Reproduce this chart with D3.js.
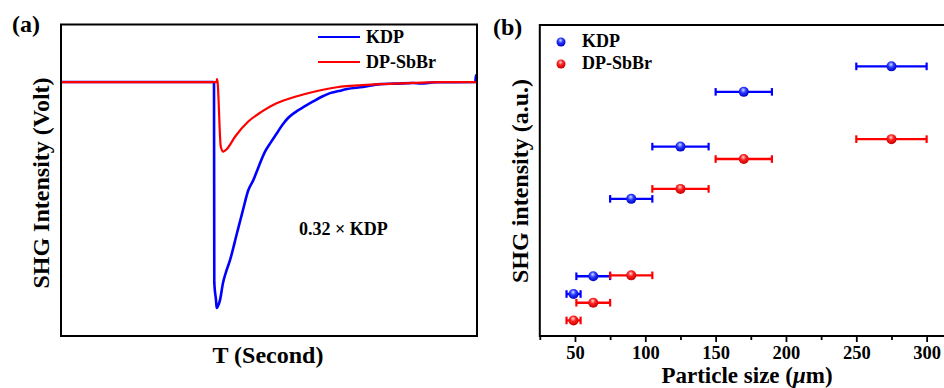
<!DOCTYPE html>
<html>
<head>
<meta charset="utf-8">
<script src="https://cdn.jsdelivr.net/npm/d3@7/dist/d3.min.js"></script>
<style>
  body { margin: 0; background: #fff; }
  svg { display: block; }
  text { font-family: "Liberation Serif", "Times New Roman", serif; font-weight: bold; fill: #000; }
</style>
</head>
<body>
<div id="chart"></div>
<script>
// Panel (a): SHG signal traces, time in arbitrary units (0-100), voltage relative to baseline
const kdpTrace = [
  [0, 0], [20, 0], [36.66, 0], [36.78, -0.004], [36.85, -0.889], [37.26, -0.965],
  [37.43, -1.0], [37.74, -0.991], [38.22, -0.965], [38.94, -0.889], [39.66, -0.841],
  [40.63, -0.788], [42.31, -0.668], [43.75, -0.566], [45.0, -0.48], [46.23, -0.434],
  [47.4, -0.38], [49.04, -0.308], [50.4, -0.268], [51.85, -0.228], [53.2, -0.19],
  [54.64, -0.158], [56.6, -0.13], [58.65, -0.107], [60.6, -0.086], [62.67, -0.065],
  [64.66, -0.049], [66.7, -0.04], [68.75, -0.031], [72.6, -0.022], [76.68, -0.009],
  [80.5, -0.007], [84.6, -0.004], [86.5, -0.006], [90, -0.001], [99.6, 0],
  [99.75, 0.03], [100, 0.02]
];
const dpTrace = [
  [0, 0], [20, 0], [37.38, 0], [37.5, 0.013], [37.64, 0], [38.4, -0.285],
  [39.01, -0.308], [39.9, -0.296], [41.83, -0.242], [44.95, -0.176], [48.25, -0.131],
  [51.44, -0.097], [54.57, -0.075], [58.65, -0.053], [62.67, -0.035], [66.7, -0.022],
  [70.5, -0.016], [76.68, -0.009], [84.6, -0.004], [91.1, 0], [100, 0]
];

// Panel (b): particle size ranges (um) and SHG intensity (a.u.)
const sizeCenters = [49, 63, 90, 125, 170, 275];
const sizeLow = [44, 51, 75, 105, 150, 250];
const sizeHigh = [54, 75, 105, 145, 190, 300];
const kdpIntensity = [13.5, 19.2, 44.1, 60.9, 78.5, 86.7];
const dpIntensity = [5.0, 10.7, 19.5, 47.3, 56.9, 63.3];
const sizeTicks = [50, 100, 150, 200, 250, 300];
const sizeMinorTicks = [25, 75, 125, 175, 225, 275, 325];

const seriesNames = ["KDP", "DP-SbBr"];
const seriesColors = ["#0000ff", "#ff0000"];

const svg = d3.select("#chart").append("svg")
  .attr("width", 944).attr("height", 388);

svg.append("rect").attr("width", 944).attr("height", 388).attr("fill", "#fff");

// ball gradients
const defs = svg.append("defs");
const ballStops = [
  ["#d8e0ff", "#2a3cff", "#0000c8"],
  ["#ffd8d8", "#ff2222", "#c80000"]
];
ballStops.forEach((s, i) => {
  const g = defs.append("radialGradient").attr("id", "ball" + i)
    .attr("cx", 0.45).attr("cy", 0.38).attr("r", 0.6)
    .attr("fx", 0.45).attr("fy", 0.3);
  g.append("stop").attr("offset", "0%").attr("stop-color", s[0]);
  g.append("stop").attr("offset", "45%").attr("stop-color", s[1]);
  g.append("stop").attr("offset", "100%").attr("stop-color", s[2]);
});

// ---------- Panel (a) ----------
const xa = d3.scaleLinear().domain([0, 100]).range([61, 477]);
const ya = d3.scaleLinear().domain([-1.124, 0.257]).range([336, 24]);

const lineA = d3.line().x(d => xa(d[0])).y(d => ya(d[1])).curve(d3.curveMonotoneX);

svg.append("path").datum(kdpTrace)
  .attr("d", lineA).attr("fill", "none")
  .attr("stroke", seriesColors[0]).attr("stroke-width", 2.6)
  .attr("stroke-linejoin", "round");
svg.append("path").datum(dpTrace)
  .attr("d", lineA).attr("fill", "none")
  .attr("stroke", seriesColors[1]).attr("stroke-width", 2.2)
  .attr("stroke-linejoin", "round");

svg.append("rect")
  .attr("x", 61).attr("y", 24.5).attr("width", 416).attr("height", 311.5)
  .attr("fill", "none").attr("stroke", "#000").attr("stroke-width", 2);

// legend (a)
seriesNames.forEach((name, i) => {
  const ly = 37 + i * 25;
  svg.append("line").attr("x1", 318).attr("x2", 360).attr("y1", ly).attr("y2", ly)
    .attr("stroke", seriesColors[i]).attr("stroke-width", 2.2);
  svg.append("text").attr("x", 366).attr("y", ly + 6).attr("font-size", 18).text(name);
});

svg.append("text").attr("x", 299).attr("y", 235).attr("font-size", 18).text("0.32 \u00d7 KDP");

svg.append("text").attr("x", 12).attr("y", 32).attr("font-size", 24).text("(a)");
svg.append("text").attr("x", 268).attr("y", 363).attr("font-size", 24)
  .attr("text-anchor", "middle").text("T (Second)");
svg.append("text").attr("transform", "translate(49,183) rotate(-90)")
  .attr("font-size", 24).attr("text-anchor", "middle").text("SHG Intensity (Volt)");

// ---------- Panel (b) ----------
const xb = d3.scaleLinear().domain([25, 325]).range([539.8, 961.8]);
const yb = d3.scaleLinear().domain([0, 100]).range([336, 25]);

const axisMajor = d3.axisBottom(xb).tickValues(sizeTicks)
  .tickSizeInner(6).tickSizeOuter(0).tickPadding(3.5);
const axisMinor = d3.axisBottom(xb).tickValues(sizeMinorTicks)
  .tickSizeInner(4).tickSizeOuter(0).tickFormat("");

const gMinor = svg.append("g").attr("transform", "translate(0,336)").call(axisMinor);
const gMajor = svg.append("g").attr("transform", "translate(0,336)").call(axisMajor);
[gMinor, gMajor].forEach(g => {
  g.select(".domain").remove();
  g.selectAll("line").attr("stroke", "#000").attr("stroke-width", 1.8);
});
gMajor.selectAll("text")
  .attr("font-family", "'Liberation Serif', 'Times New Roman', serif")
  .attr("font-weight", "bold").attr("font-size", 18.5).attr("fill", "#000");

svg.append("rect")
  .attr("x", 539.8).attr("y", 25).attr("width", 422).attr("height", 311)
  .attr("fill", "none").attr("stroke", "#000").attr("stroke-width", 2);

const seriesB = [kdpIntensity, dpIntensity];
seriesB.forEach((vals, si) => {
  const g = svg.append("g");
  const rows = sizeCenters.map((c, i) => ({ c: c, lo: sizeLow[i], hi: sizeHigh[i], v: vals[i] }));
  g.selectAll(".eb").data(rows).enter().append("line")
    .attr("x1", d => xb(d.lo)).attr("x2", d => xb(d.hi))
    .attr("y1", d => yb(d.v)).attr("y2", d => yb(d.v))
    .attr("stroke", seriesColors[si]).attr("stroke-width", 2.4);
  g.selectAll(".capl").data(rows).enter().append("line")
    .attr("x1", d => xb(d.lo)).attr("x2", d => xb(d.lo))
    .attr("y1", d => yb(d.v) - 3.8).attr("y2", d => yb(d.v) + 3.8)
    .attr("stroke", seriesColors[si]).attr("stroke-width", 2.2);
  g.selectAll(".caph").data(rows).enter().append("line")
    .attr("x1", d => xb(d.hi)).attr("x2", d => xb(d.hi))
    .attr("y1", d => yb(d.v) - 3.8).attr("y2", d => yb(d.v) + 3.8)
    .attr("stroke", seriesColors[si]).attr("stroke-width", 2.2);
  g.selectAll(".pt").data(rows).enter().append("circle")
    .attr("cx", d => xb(d.c)).attr("cy", d => yb(d.v)).attr("r", 5)
    .attr("fill", `url(#ball${si})`);
});

// legend (b)
seriesNames.forEach((name, i) => {
  const ly = 42 + i * 22;
  svg.append("circle").attr("cx", 561).attr("cy", ly).attr("r", 4.5)
    .attr("fill", `url(#ball${i})`);
  svg.append("text").attr("x", 582).attr("y", ly + 5).attr("font-size", 18).text(name);
});

svg.append("text").attr("x", 493).attr("y", 35).attr("font-size", 24).text("(b)");
svg.append("text").attr("transform", "translate(528,181) rotate(-90)")
  .attr("font-size", 24).attr("text-anchor", "middle").text("SHG intensity (a.u.)");
const xt = svg.append("text").attr("x", 747).attr("y", 383).attr("font-size", 23)
  .attr("text-anchor", "middle");
xt.append("tspan").text("Particle size (");
xt.append("tspan").attr("font-style", "italic").text("\u03bc");
xt.append("tspan").text("m)");
</script>
</body>
</html>
